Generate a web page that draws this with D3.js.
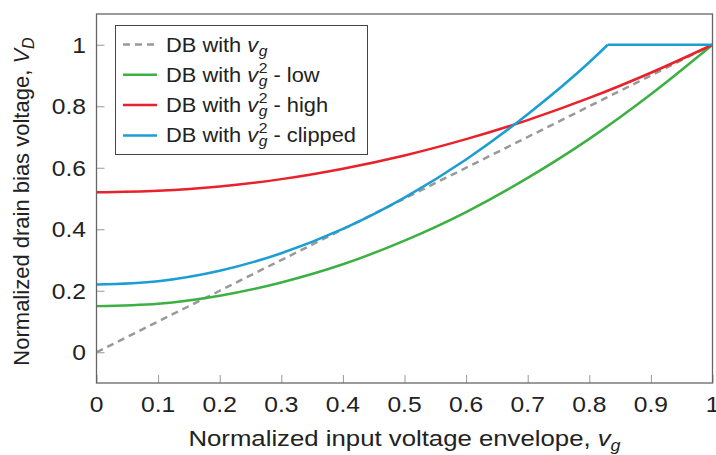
<!DOCTYPE html>
<html>
<head>
<meta charset="utf-8">
<script src="https://cdn.jsdelivr.net/npm/d3@7"></script>
<style>
  body { margin: 0; background: #fff; }
  text { font-family: "Liberation Sans", Arial, Helvetica, sans-serif; fill: #222; }
</style>
</head>
<body>
<script>
/* ---------------------------- */
/* DATA                         */
/* ---------------------------- */

const xVals = [0, 0.1, 0.2, 0.3, 0.4, 0.5, 0.6, 0.7, 0.8, 0.9, 1];
const dbVg = [0, 0.1, 0.2, 0.3, 0.4, 0.5, 0.6, 0.7, 0.8, 0.9, 1];
const dbLow = [0.15, 0.158, 0.184, 0.227, 0.286, 0.363, 0.456, 0.567, 0.694, 0.839, 1];
const dbHigh = [0.52, 0.525, 0.539, 0.563, 0.597, 0.64, 0.693, 0.755, 0.827, 0.909, 1];
// clipped: rising part, then flat at 1
const clipX = [0, 0.1, 0.2, 0.3, 0.4, 0.5, 0.6, 0.7, 0.8, 0.83];
const clipY = [0.22, 0.231, 0.265, 0.322, 0.401, 0.503, 0.627, 0.774, 0.943, 1];
const clipFlatX = [0.83, 1];
const clipFlatY = [1, 1];

const xTicks = [0, 0.1, 0.2, 0.3, 0.4, 0.5, 0.6, 0.7, 0.8, 0.9, 1];
const yTicks = [0, 0.2, 0.4, 0.6, 0.8, 1];

/* ---------------------------- */
/* CANVAS                       */
/* ---------------------------- */

const W = 716, H = 455;
const plot = {left: 96.5, right: 712.5, top: 14, bottom: 383};
const sx = 1.12; // the original text looks a bit wide

const svg = d3.select("body").append("svg")
    .attr("width", W)
    .attr("height", H);

const x = d3.scaleLinear().domain([0, 1]).range([plot.left, plot.right]);
const y = d3.scaleLinear().domain([-0.1, 1.1]).range([plot.bottom, plot.top]);

// Helper: horizontal text group stretched a little
function wideText(px, py) {
    return svg.append("g").attr("transform", "translate(" + px + "," + py + ") scale(" + sx + ",1)");
}

// Ticks (inward, grey)
svg.append("g")
    .attr("transform", "translate(0," + plot.bottom + ")")
    .call(d3.axisTop(x).tickValues(xTicks).tickSize(8).tickFormat(""))
    .call(g => g.select(".domain").remove())
    .call(g => g.selectAll("line").attr("stroke", "#999").attr("stroke-width", 1));
svg.append("g")
    .attr("transform", "translate(" + plot.left + ",0)")
    .call(d3.axisRight(y).tickValues(yTicks).tickSize(8).tickFormat(""))
    .call(g => g.select(".domain").remove())
    .call(g => g.selectAll("line").attr("stroke", "#999").attr("stroke-width", 1));

// Tick labels
xTicks.forEach(d => {
    wideText(x(d), 412).append("text")
        .attr("text-anchor", "middle")
        .style("font-size", "22px")
        .text(d3.format("~g")(d));
});
yTicks.forEach(d => {
    wideText(86, y(d) + 8).append("text")
        .attr("text-anchor", "end")
        .style("font-size", "22px")
        .text(d3.format("~g")(d));
});

/* ---------------------------- */
/* LINES                        */
/* ---------------------------- */

const smooth = d3.line()
    .x(d => x(d[0]))
    .y(d => y(d[1]))
    .curve(d3.curveMonotoneX);
const straight = d3.line()
    .x(d => x(d[0]))
    .y(d => y(d[1]));

svg.append("path")
    .datum(d3.zip(xVals, dbVg))
    .attr("d", straight)
    .attr("fill", "none")
    .attr("stroke", "#999")
    .attr("stroke-width", 2.5)
    .attr("stroke-dasharray", "7,5");

svg.append("path")
    .datum(d3.zip(xVals, dbLow))
    .attr("d", smooth)
    .attr("fill", "none")
    .attr("stroke", "#3cb043")
    .attr("stroke-width", 2.5);

svg.append("path")
    .datum(d3.zip(xVals, dbHigh))
    .attr("d", smooth)
    .attr("fill", "none")
    .attr("stroke", "#e8212b")
    .attr("stroke-width", 2.5);

svg.append("path")
    .datum(d3.zip(clipX, clipY))
    .attr("d", smooth)
    .attr("fill", "none")
    .attr("stroke", "#1b9ed3")
    .attr("stroke-width", 2.5);
svg.append("path")
    .datum(d3.zip(clipFlatX, clipFlatY))
    .attr("d", straight)
    .attr("fill", "none")
    .attr("stroke", "#1b9ed3")
    .attr("stroke-width", 2.5);

// Frame
svg.append("rect")
    .attr("x", plot.left)
    .attr("y", plot.top)
    .attr("width", plot.right - plot.left)
    .attr("height", plot.bottom - plot.top)
    .attr("fill", "none")
    .attr("stroke", "#666")
    .attr("stroke-width", 1.3);

/* ---------------------------- */
/* LEGEND                       */
/* ---------------------------- */

const legendItems = [
    {suffix: "", sq: false, color: "#999", dash: "7,5"},
    {suffix: " - low", sq: true, color: "#3cb043", dash: null},
    {suffix: " - high", sq: true, color: "#e8212b", dash: null},
    {suffix: " - clipped", sq: true, color: "#1b9ed3", dash: null}
];

svg.append("rect")
    .attr("x", 115.5)
    .attr("y", 25.5)
    .attr("width", 252)
    .attr("height", 129)
    .attr("fill", "#fff")
    .attr("stroke", "#444")
    .attr("stroke-width", 1);

legendItems.forEach((d, i) => {
    const cy = 44.5 + i * 30.3;
    svg.append("line")
        .attr("x1", 123).attr("x2", 157)
        .attr("y1", cy).attr("y2", cy)
        .attr("stroke", d.color)
        .attr("stroke-width", 2.5)
        .attr("stroke-dasharray", d.dash);

    const g = wideText(166, cy + 7);
    let cx = 0;
    const t1 = g.append("text").attr("x", cx)
        .style("font-size", "19.5px").text("DB with\u00a0");
    cx += t1.node().getComputedTextLength();
    const tv = g.append("text").attr("x", cx)
        .style("font-size", "19.5px").style("font-style", "italic").text("v");
    cx += tv.node().getComputedTextLength() + 0.5;
    const tg = g.append("text").attr("x", cx).attr("y", 4)
        .style("font-size", "14px").style("font-style", "italic").text("g");
    let w = tg.node().getComputedTextLength();
    if (d.sq) {
        const ts = g.append("text").attr("x", cx).attr("y", -9)
            .style("font-size", "14px").text("2");
        w = Math.max(w, ts.node().getComputedTextLength());
        cx += w;
        g.append("text").attr("x", cx)
            .style("font-size", "19.5px").text(d.suffix.replace(" ", "\u00a0"));
    }
});

/* ---------------------------- */
/* AXIS TITLES                  */
/* ---------------------------- */

const xTitle = wideText((plot.left + plot.right) / 2, 446).append("text")
    .attr("text-anchor", "middle")
    .style("font-size", "23px");
xTitle.append("tspan").text("Normalized input voltage envelope,\u00a0");
xTitle.append("tspan").style("font-style", "italic").text("v");
xTitle.append("tspan").style("font-style", "italic").style("font-size", "16px")
    .attr("dy", 5).text("g");

const yTitle = svg.append("text")
    .attr("transform", "translate(29," + ((plot.top + plot.bottom) / 2 + 3) + ") rotate(-90)")
    .attr("text-anchor", "middle")
    .style("font-size", "22px");
yTitle.append("tspan").text("Normalized drain bias voltage,\u00a0");
yTitle.append("tspan").style("font-style", "italic").text("V");
yTitle.append("tspan").style("font-style", "italic").style("font-size", "16px")
    .attr("dy", 5).text("D");
</script>
</body>
</html>
